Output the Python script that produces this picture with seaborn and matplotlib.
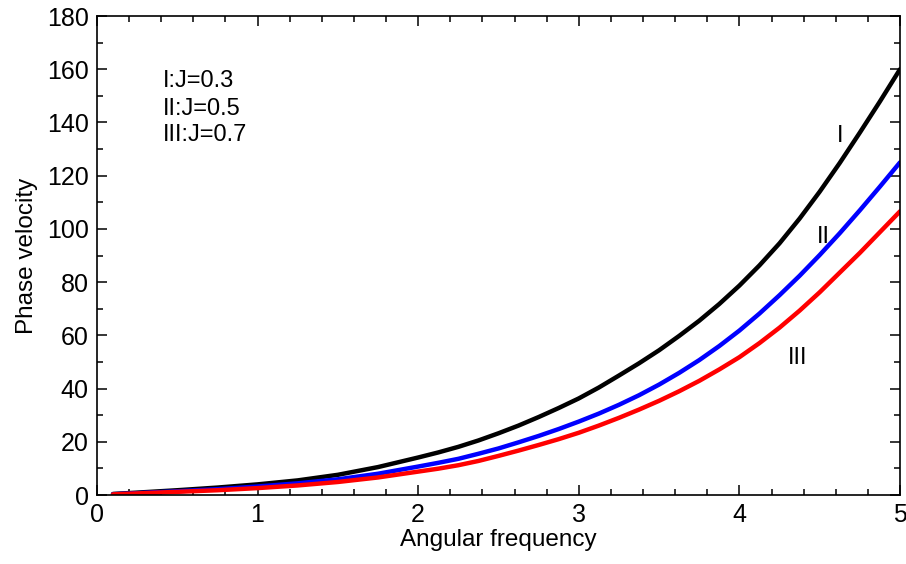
import numpy as np
import pandas as pd
import seaborn as sns
import matplotlib.pyplot as plt
from matplotlib.ticker import MultipleLocator

# angular frequency grid
omega = [0.1, 0.25, 0.5, 0.75, 1.0, 1.25, 1.5, 1.75,
         2.0, 2.125, 2.25, 2.375, 2.5, 2.625, 2.75, 2.875,
         3.0, 3.125, 3.25, 3.375, 3.5, 3.625, 3.75, 3.875,
         4.0, 4.125, 4.25, 4.375, 4.5, 4.625, 4.75, 4.875, 5.0]

# phase velocity for each J value
v_I = [0.4, 0.9, 1.8, 2.8, 4.0, 5.5, 7.6, 10.5,
       14.1, 16.0, 18.1, 20.5, 23.2, 26.1, 29.3, 32.7,
       36.3, 40.4, 44.9, 49.5, 54.4, 59.8, 65.5, 71.8,
       78.7, 86.3, 94.6, 103.9, 114.0, 124.8, 136.2, 147.9, 160.0]
v_II = [0.3, 0.7, 1.4, 2.2, 3.2, 4.4, 5.9, 8.0,
        10.7, 12.1, 13.6, 15.5, 17.5, 19.8, 22.2, 24.8,
        27.6, 30.6, 33.9, 37.5, 41.5, 45.9, 50.7, 56.0,
        61.8, 68.2, 75.1, 82.4, 90.2, 98.4, 107.0, 115.9, 125.0]
v_III = [0.25, 0.6, 1.2, 1.8, 2.6, 3.6, 4.9, 6.6,
         8.8, 9.9, 11.2, 12.8, 14.7, 16.7, 18.8, 21.0,
         23.4, 26.1, 29.0, 32.1, 35.4, 39.0, 42.9, 47.2,
         51.8, 57.1, 62.9, 69.3, 76.2, 83.6, 91.0, 98.8, 106.6]

series = ['I', 'II', 'III']
j_labels = ['I:J=0.3', 'II:J=0.5', 'III:J=0.7']
colors = ['black', 'blue', 'red']

df = pd.concat([
    pd.DataFrame({'omega': omega, 'v': v, 'curve': s})
    for s, v in zip(series, [v_I, v_II, v_III])
])

sns.set_style('ticks')
plt.rcParams['font.family'] = ['Liberation Sans', 'DejaVu Sans']
plt.rcParams['text.color'] = 'black'
plt.rcParams['axes.labelcolor'] = 'black'
plt.rcParams['xtick.color'] = 'black'
plt.rcParams['ytick.color'] = 'black'

fig = plt.figure(figsize=(9.06, 5.64), dpi=100)
ax = fig.add_axes([0.107, 0.1223, 0.8864, 0.8493])

sns.lineplot(data=df, x='omega', y='v', hue='curve', palette=colors,
             linewidth=3.2, ax=ax, legend=False, sort=True)

ax.set_xlim(0, 5)
ax.set_ylim(0, 180)
ax.xaxis.set_major_locator(MultipleLocator(1))
ax.xaxis.set_minor_locator(MultipleLocator(0.2))
ax.yaxis.set_major_locator(MultipleLocator(20))
ax.yaxis.set_minor_locator(MultipleLocator(10))
ax.tick_params(which='both', direction='in', top=True, right=True,
               width=1.1, color='black', labelcolor='black')
ax.tick_params(which='major', length=7, labelsize=18, pad=6)
ax.tick_params(which='minor', length=4)
for sp in ax.spines.values():
    sp.set_linewidth(1.2)
    sp.set_color('black')

ax.set_xlabel('Angular frequency', fontsize=17.5, labelpad=1, color='black')
ax.set_ylabel('Phase velocity', fontsize=17.5, labelpad=6, color='black')

# J-value notes in upper left
for lab, yy in zip(j_labels, [153.2, 142.8, 133.1]):
    ax.text(0.41, yy, lab, fontsize=17, ha='left', va='baseline', color='black')

# curve labels
for lab, xx, yy in zip(series, [4.627, 4.523, 4.363], [132.8, 94.6, 49.2]):
    ax.text(xx, yy, lab, fontsize=17, ha='center', va='baseline', color='black')

fig.savefig('out.png', dpi=100)
